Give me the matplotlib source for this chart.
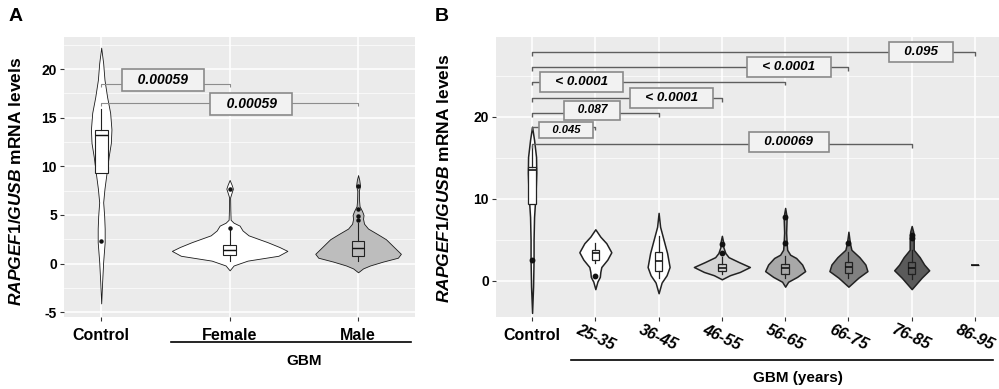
import numpy as np
import matplotlib.pyplot as plt
from matplotlib.ticker import MultipleLocator

plt.rcParams['font.family'] = 'Liberation Sans'
plt.rcParams['font.weight'] = 'bold'
plt.rcParams['mathtext.fontset'] = 'custom'
plt.rcParams['mathtext.it'] = 'Liberation Sans:italic:bold'
plt.rcParams['mathtext.rm'] = 'Liberation Sans:bold'

# ---------------- panel A: sex ----------------
a_labels = ['Control', 'Female', 'Male']

# violin outlines: level and half width (px)
a_ctrl_y = [-4.1, -1.8, 0.2, 2.2, 3.6, 4.9, 6.3, 7.7, 9.4, 11.0, 12.4, 13.8, 15.5, 17.1, 18.9, 20.6, 22.2]
a_ctrl_w = [0, 1, 2, 3.5, 3.5, 3, 2, 3.3, 5.5, 7.5, 9.7, 10.3, 9, 6, 3.3, 2, 0]
a_fem_y = [-0.7, -0.2, 0.3, 0.8, 1.3, 1.7, 2.2, 2.9, 3.4, 3.9, 4.2, 4.5, 5.5, 6.8, 7.3, 7.7, 8.1, 8.6]
a_fem_w = [0, 4, 18, 49, 58, 50, 38, 19, 13, 10, 4, 1, 0.7, 0.5, 2, 3.3, 2, 0]
a_male_y = [-0.9, -0.5, -0.2, 0.2, 0.6, 1.0, 1.5, 2.0, 2.5, 3.0, 3.6, 4.1, 4.6, 5.0, 5.4, 5.9, 6.5, 7.5, 8.0, 8.6, 9.1]
a_male_w = [0, 5, 12, 25, 40, 43, 38, 33, 28, 20, 10, 6, 5, 5.5, 4, 1.5, 1, 0.8, 2, 1.2, 0]

# box plots
a_q1 = [9.3, 0.9, 0.8]
a_med = [13.2, 1.4, 1.6]
a_q3 = [13.7, 1.95, 2.35]
a_wlo = [9.3, 0.3, 0.3]
a_whi = [15.9, 3.4, 4.2]
a_out = [[2.35], [3.7, 7.7], [4.5, 4.9, 5.6, 8.0]]

# p-value brackets
a_pairs = [(1, 2), (1, 3)]
a_pvals = ['0.00059', '0.00059']
a_bracket_y = [18.5, 16.5]
a_label_x = [1.48, 2.17]
a_label_y = [18.9, 16.4]

# ---------------- panel B: age ----------------
b_labels = ['Control', '25-35', '36-45', '46-55', '56-65', '66-75', '76-85', '86-95']

b_prof_y = [
    [-3.9, -0.7, 2.6, 5.0, 7.8, 10.7, 13.2, 15.1, 17.2, 18.8],
    [-1.0, -0.1, 0.5, 1.1, 1.7, 2.6, 3.5, 4.6, 5.4, 6.3],
    [-1.5, -0.2, 0.7, 1.7, 3.4, 5.0, 6.6, 8.3],
    [0.2, 0.7, 1.1, 1.7, 2.3, 2.9, 3.4, 4.1, 4.8, 5.5],
    [-0.7, -0.1, 0.5, 1.2, 2.0, 2.8, 3.2, 3.8, 4.6, 5.9, 7.8, 8.9],
    [-0.7, 0.4, 1.2, 2.0, 2.9, 3.8, 4.6, 6.0],
    [-1.0, 0.4, 1.3, 2.0, 2.9, 3.8, 5.2, 6.0, 6.7],
]
b_prof_w = [
    [0, 1, 1.5, 1.5, 2, 3.5, 4.2, 4, 2, 0],
    [0, 2, 4.5, 5, 6, 12, 16, 11, 5, 0],
    [0, 3, 8, 11, 8.5, 5, 1.5, 0],
    [0, 8, 18, 28, 17, 6.7, 3.5, 1.5, 1.2, 0],
    [0, 3, 12, 20, 17, 11, 5, 2, 1.5, 1, 1.5, 0],
    [0, 10, 19, 17, 11, 3, 1.5, 0],
    [0, 10, 17.5, 12.5, 8, 2, 2, 1.5, 0],
]

b_q1 = [9.4, 2.6, 1.2, 1.2, 0.85, 1.0, 0.9, 1.95]
b_med = [13.5, 3.4, 2.4, 1.6, 1.6, 1.7, 1.6, 1.95]
b_q3 = [13.9, 3.8, 3.5, 2.1, 2.1, 2.3, 2.3, 1.95]
b_wlo = [9.4, 2.2, 0.3, 0.8, 0.3, 0.4, 0.2, 1.95]
b_whi = [16.5, 4.6, 5.5, 2.9, 3.0, 3.5, 3.8, 1.95]
b_out = [[2.6], [0.6], [], [3.4, 4.5], [4.6, 7.8], [4.6], [5.2, 5.6], []]

b_pairs = [(1, 8), (1, 6), (1, 5), (1, 4), (1, 3), (1, 2), (1, 7)]
b_pvals = ['0.095', '< 0.0001', '< 0.0001', '< 0.0001', '0.087', '0.045', '0.00069']
b_bracket_y = [27.9, 26.1, 24.3, 22.3, 20.5, 18.8, 16.7]
b_label_x = [7.15, 5.06, 1.78, 3.2, 1.95, 1.54, 5.06]
b_label_y = [27.9, 26.1, 24.3, 22.3, 20.8, 18.4, 16.95]
b_label_size = [9.6, 9.7, 9.7, 9.7, 8.6, 8.1, 9.6]


def style_axes(ax):
    ax.set_facecolor('#ebebeb')
    for s in ax.spines.values():
        s.set_visible(False)
    ax.set_axisbelow(True)
    ax.grid(which='major', color='white', lw=1.1)
    ax.grid(which='minor', axis='y', color='white', lw=0.5)
    ax.tick_params(which='major', length=3, color='#333333', width=0.8, pad=2)
    ax.tick_params(which='minor', length=0)


def draw_violins(ax, prof_y, prof_w, fills, px_per_unit, edge, lw):
    stats, widths = [], []
    for y, w in zip(prof_y, prof_w):
        stats.append({'coords': np.array(y, float), 'vals': np.array(w, float),
                      'mean': 0.0, 'median': 0.0, 'min': min(y), 'max': max(y),
                      'quantiles': []})
        widths.append(2 * max(w) / px_per_unit)
    pos = np.arange(1, len(stats) + 1)
    parts = ax.violin(stats, positions=pos, widths=widths, showmeans=False,
                      showextrema=False, showmedians=False)
    for body, fc in zip(parts['bodies'], fills):
        body.set_facecolor(fc)
        body.set_edgecolor(edge)
        body.set_linewidth(lw)
        body.set_alpha(1)
        body.set_zorder(2)


def draw_boxes(ax, q1, med, q3, wlo, whi, out, fills, width, lw, ms):
    stats = []
    for a, m, b, lo, hi, f in zip(q1, med, q3, wlo, whi, out):
        stats.append({'q1': a, 'med': m, 'q3': b, 'whislo': lo, 'whishi': hi,
                      'fliers': np.array(f, float)})
    pos = np.arange(1, len(stats) + 1)
    bp = ax.bxp(stats, positions=pos, widths=width, patch_artist=True,
                showcaps=False, manage_ticks=False,
                boxprops=dict(lw=lw, edgecolor='#222222'),
                medianprops=dict(color='#111111', lw=lw * 1.3),
                whiskerprops=dict(color='#222222', lw=lw),
                flierprops=dict(marker='o', markersize=ms, markerfacecolor='#111111',
                                markeredgecolor='#111111'))
    for box, fc in zip(bp['boxes'], fills):
        box.set_facecolor(fc)
    for art in bp['boxes'] + bp['medians'] + bp['whiskers'] + bp['fliers']:
        art.set_zorder(3)


def draw_brackets(ax, pairs, ys, texts, lxs, lys, sizes, tick, color, lw):
    for (i, j), y, t, lx, ly, fs in zip(pairs, ys, texts, lxs, lys, sizes):
        ax.plot([i, i, j, j], [y - tick, y, y, y - tick], color=color, lw=lw,
                zorder=4, solid_capstyle='butt')
        ax.text(lx, ly, f'   {t}   ', ha='center', va='center', fontsize=fs,
                style='italic', weight='bold', zorder=5,
                bbox=dict(boxstyle='square,pad=0.3', fc='#f2f2f2', ec='#8a8a8a', lw=1.2))


fig = plt.figure(figsize=(9.99, 3.89), dpi=100)
axA = fig.add_axes([0.064, 0.185, 0.351, 0.72])
axB = fig.add_axes([0.4965, 0.185, 0.5035, 0.72])

ylab = r'$RAPGEF1/GUSB$ mRNA levels'

# ---- panel A ----
style_axes(axA)
draw_violins(axA, [a_ctrl_y, a_fem_y, a_male_y], [a_ctrl_w, a_fem_w, a_male_w],
             ['white', 'white', '#bdbdbd'], 129, '#1a1a1a', 0.6)
draw_boxes(axA, a_q1, a_med, a_q3, a_wlo, a_whi, a_out,
           ['white', 'white', '#bdbdbd'], 0.1, 0.8, 2.2)
draw_brackets(axA, a_pairs, a_bracket_y, a_pvals, a_label_x, a_label_y,
              [10, 10], 0.35, '#8c8c8c', 0.8)
axA.set_xlim(0.71, 3.44)
axA.set_ylim(-5.5, 23.3)
axA.set_xticks(range(1, 4))
axA.set_xticklabels(a_labels, fontsize=11.5, fontweight='bold')
axA.tick_params(axis='x', pad=5)
axA.set_yticks([-5, 0, 5, 10, 15, 20])
axA.set_yticklabels(['-5', '0', '5', '10', '15', '20'], fontsize=10)
axA.yaxis.set_minor_locator(MultipleLocator(2.5))
axA.set_ylabel(ylab, fontsize=12.5, fontweight='bold')
axA.yaxis.set_label_coords(-0.114, 0.486)
trA = axA.get_xaxis_transform()
axA.plot([1.54, 3.41], [-0.089, -0.089], color='black', lw=1.2, transform=trA, clip_on=False)
axA.text(2.58, -0.157, 'GBM', transform=trA, ha='center', va='center', fontsize=11)
fig.text(0.016, 0.958, 'A', fontsize=14, fontweight='bold', ha='center', va='center')

# ---- panel B ----
style_axes(axB)
b_fills = ['white', 'white', 'white', '#d4d4d4', '#a8a8a8', '#808080', '#5a5a5a', '#5a5a5a']
draw_violins(axB, b_prof_y, b_prof_w, b_fills, 63.3, '#222222', 1.1)
draw_boxes(axB, b_q1, b_med, b_q3, b_wlo, b_whi, b_out, b_fills, 0.12, 0.9, 3.2)
draw_brackets(axB, b_pairs, b_bracket_y, b_pvals, b_label_x, b_label_y,
              b_label_size, 0.45, '#5e5e5e', 1.0)
axB.set_xlim(0.43, 8.38)
axB.set_ylim(-4.4, 29.75)
axB.set_xticks(range(1, 9))
axB.set_xticklabels([b_labels[0]] + [''] * 7, fontsize=11.5, fontweight='bold')
axB.tick_params(axis='x', pad=5)
trB = axB.get_xaxis_transform()
# the age classes are drawn slanted below their ticks
for k in range(1, len(b_labels)):
    axB.text(k + 1, -0.075, b_labels[k], transform=trB, rotation=-25,
             rotation_mode='anchor', ha='center', va='center', fontsize=11.5,
             style='italic', fontweight='bold', clip_on=False)
axB.set_yticks([0, 10, 20])
axB.set_yticklabels(['0', '10', '20'], fontsize=10)
axB.yaxis.set_minor_locator(MultipleLocator(5))
axB.set_ylabel(ylab, fontsize=12.5, fontweight='bold')
axB.yaxis.set_label_coords(-0.087, 0.496)
axB.plot([1.62, 8.28], [-0.154, -0.154], color='black', lw=1.2, transform=trB, clip_on=False)
axB.text(5.2, -0.218, 'GBM (years)', transform=trB, ha='center', va='center', fontsize=11)
fig.text(0.442, 0.958, 'B', fontsize=14, fontweight='bold', ha='center', va='center')

fig.savefig('out.png', dpi=100)
